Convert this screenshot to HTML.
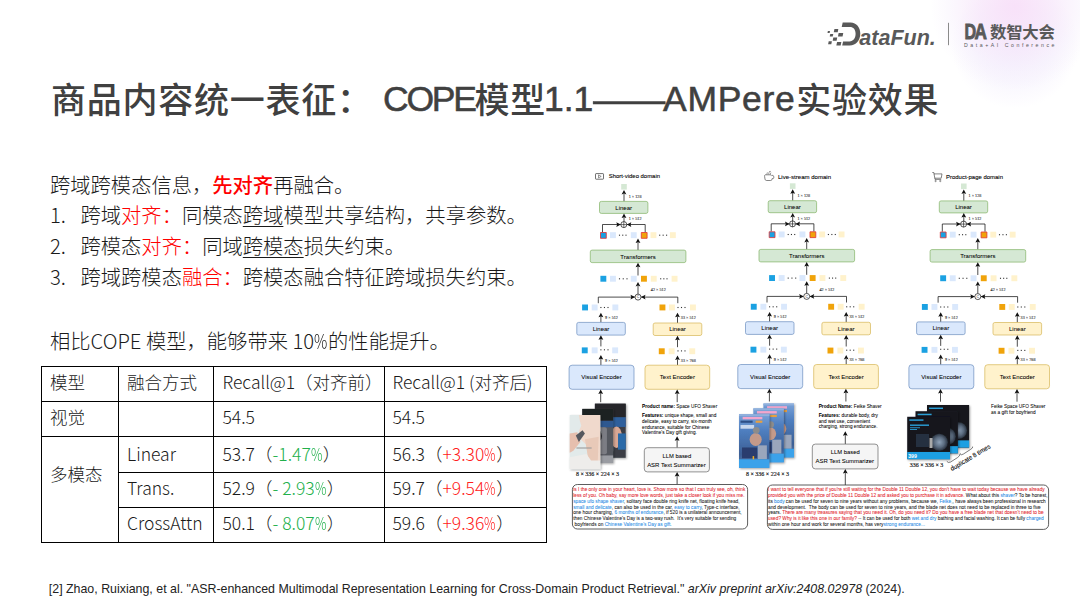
<!DOCTYPE html>
<html><head><meta charset="utf-8">
<style>
*{margin:0;padding:0;box-sizing:border-box}
html,body{width:1080px;height:608px;overflow:hidden;background:#fff}
body{position:relative;font-family:"Liberation Sans","Noto Sans CJK SC",sans-serif}
.glow{position:absolute;left:900px;top:-100px;width:230px;height:230px;
 background:radial-gradient(circle at 50% 46%, rgba(248,221,248,0.85) 0%, rgba(246,226,249,0.6) 22%, rgba(243,233,251,0.3) 38%, rgba(255,255,255,0) 50%)}
.glow2{position:absolute;left:925px;top:-45px;width:180px;height:180px;
 background:radial-gradient(circle at 50% 50%, rgba(236,228,252,0.55) 0%, rgba(238,232,252,0.35) 30%, rgba(244,240,253,0.15) 45%, rgba(255,255,255,0) 50%)}
.title span{position:absolute;top:0}
.title .cj{font-size:35px}
.title .la{font-family:"Liberation Sans",sans-serif;font-size:35.5px;-webkit-text-stroke:0.55px #404040}
.title{position:absolute;left:52px;top:74px;font-family:"Noto Sans CJK SC",sans-serif;font-weight:500;font-size:33px;line-height:48px;color:#404040;white-space:nowrap;letter-spacing:2.7px}
.body{position:absolute;left:50px;font-family:"Noto Sans CJK SC",sans-serif;font-weight:300;font-size:20.3px;line-height:28px;color:#1a1a1a;white-space:nowrap}
.red{color:#ff0000}
.u{text-decoration:underline;text-underline-offset:3px;text-decoration-thickness:1px}
.num{display:inline-block;width:30.5px}
.hl{position:absolute;height:1px;background:#000}
.vl{position:absolute;width:1.2px;background:#000}
.tt{position:absolute;font-family:"Noto Sans CJK SC",sans-serif;font-weight:300;font-size:17.5px;line-height:24px;color:#1a1a1a;white-space:nowrap}
.pc{display:inline-block;transform:scaleX(0.73);transform-origin:0 50%;margin-right:-0.21em}
.g{color:#22b04b}
.r{color:#ff2020}
.foot{position:absolute;left:48.8px;top:582px;font-family:"Liberation Sans",sans-serif;font-size:12.4px;color:#222;white-space:nowrap}
</style></head>
<body>
<div class="glow2"></div><div class="glow"></div>

<!-- logo -->
<svg style="position:absolute;left:0;top:0" width="1080" height="60" viewBox="0 0 1080 60">
  <g fill="#595959">
    <path d="M827.89 31 L829.99 31 L829.61 32.9 L827.51 32.9 Z"/>
    <path d="M834.42 29 L838.32 29 L837.68 32.2 L833.78 32.2 Z"/>
    <path d="M830.26 34 L833.26 34 L832.74 36.6 L829.74 36.6 Z"/>
    <path d="M838.65 33.1 L843.25 33.1 L842.55 36.6 L837.95 36.6 Z"/>
    <path d="M833.32 37.5 L837.22 37.5 L836.58 40.7 L832.68 40.7 Z"/>
    <path d="M828.70 41.2 L831.90 41.2 L831.30 44.2 L828.10 44.2 Z"/>
    <path d="M837.05 42.1 L841.35 42.1 L840.65 45.6 L836.35 45.6 Z"/>
    <path d="M842.7 22.6 H850.5 C856.6 22.6 860.3 27.6 860.3 33.6 C860.3 40.2 856.2 45.6 849.6 45.6 H842.2 L843.1 41.4 H849.4 C853.4 41.4 855.6 38.2 855.6 33.8 C855.6 29.8 853.5 27.1 849.8 27.1 H841.7 Z"/>
  </g>
  <text x="859.3" y="45.3" font-family="Liberation Sans" font-weight="bold" font-style="italic" font-size="22" fill="#595959" textLength="76.5" lengthAdjust="spacingAndGlyphs">ataFun.</text>
  <rect x="948" y="22.8" width="1" height="22.4" fill="#8a8a8a"/>
  <text x="964.4" y="38.9" font-family="Liberation Sans" font-weight="bold" font-size="22" fill="#595959" stroke="#595959" stroke-width="0.9" textLength="11.6" lengthAdjust="spacingAndGlyphs">D</text><text x="974.6" y="38.9" font-family="Liberation Sans" font-weight="bold" font-size="22" fill="#595959" stroke="#595959" stroke-width="0.9" textLength="12.4" lengthAdjust="spacingAndGlyphs">A</text>
  <text x="990" y="37.6" font-family="Noto Sans CJK SC" font-weight="700" font-size="16.4" fill="#595959" textLength="64.8" lengthAdjust="spacing">数智大会</text>
  <text x="964" y="46.8" font-family="Liberation Sans" font-size="5.2" fill="#595959" textLength="90.5" lengthAdjust="spacing">Data+AI Conference</text>
</svg>

<div class="title"><span class="cj" style="left:-1px;letter-spacing:0.75px">商品内容统一表征：</span><span class="la" style="left:331px;top:1px;letter-spacing:-2.2px">COPE</span><span class="cj" style="left:422.5px;letter-spacing:0.75px">模型</span><span class="la" style="left:492px;top:1px;letter-spacing:0px">1.1</span><span style="left:539px;top:0;display:inline-block;transform-origin:0 0;transform:scaleX(1.371);-webkit-text-stroke:0.35px #404040">——</span><span class="la" style="left:611px;top:1px;letter-spacing:0.7px">AMPere</span><span class="cj" style="left:744.3px;letter-spacing:0.75px">实验效果</span></div>

<div class="body" style="top:169.5px">跨域跨模态信息，<span class="red" style="font-weight:500">先对齐</span>再融合。</div>
<div class="body" style="top:200px"><span class="num">1.</span>跨域<span class="red">对齐：</span>同模态<span class="u">跨域</span>模型共享结构，共享参数。</div>
<div class="body" style="top:231px"><span class="num">2.</span>跨模态<span class="red">对齐：</span>同域<span class="u">跨模态</span>损失约束。</div>
<div class="body" style="top:262px"><span class="num">3.</span>跨域跨模态<span class="red">融合：</span>跨模态融合特征跨域损失约束。</div>
<div class="body" style="top:326px">相比COPE 模型，能够带来 10<span class="pc">%</span>的性能提升。</div>

<div class="tb">
<div class="hl" style="top:366px;left:41px;width:505px"></div>
<div class="hl" style="top:401px;left:41px;width:505px"></div>
<div class="hl" style="top:436px;left:41px;width:505px"></div>
<div class="hl" style="top:471.5px;left:118px;width:428px"></div>
<div class="hl" style="top:507px;left:118px;width:428px"></div>
<div class="hl" style="top:542px;left:41px;width:505px"></div>
<div class="vl" style="left:40.5px;top:366px;height:177px"></div>
<div class="vl" style="left:118px;top:366px;height:177px"></div>
<div class="vl" style="left:213.3px;top:366px;height:177px"></div>
<div class="vl" style="left:383.8px;top:366px;height:177px"></div>
<div class="vl" style="left:545.5px;top:366px;height:177px"></div>
<div class="tt" style="left:50px;top:370px">模型</div>
<div class="tt" style="left:127px;top:370px">融合方式</div>
<div class="tt" style="left:222.5px;top:370px">Recall@1（对齐前）</div>
<div class="tt" style="left:392.5px;top:370px">Recall@1 (对齐后)</div>
<div class="tt" style="left:50px;top:405px">视觉</div>
<div class="tt" style="left:222.5px;top:405px">54.5</div>
<div class="tt" style="left:392.5px;top:405px">54.5</div>
<div class="tt" style="left:50px;top:462px">多模态</div>
<div class="tt" style="left:127px;top:441.5px">Linear</div>
<div class="tt" style="left:127px;top:475.5px">Trans.</div>
<div class="tt" style="left:127px;top:511px">CrossAttn</div>
<div class="tt" style="left:222.5px;top:441.5px">53.7（<span class="g">-1.47<span class="pc">%</span></span>）</div>
<div class="tt" style="left:222.5px;top:475.5px">52.9（<span class="g">- 2.93<span class="pc">%</span></span>）</div>
<div class="tt" style="left:222.5px;top:511px">50.1（<span class="g">- 8.07<span class="pc">%</span></span>）</div>
<div class="tt" style="left:392.5px;top:441.5px">56.3（<span class="r">+3.30<span class="pc">%</span></span>）</div>
<div class="tt" style="left:392.5px;top:475.5px">59.7（<span class="r">+9.54<span class="pc">%</span></span>）</div>
<div class="tt" style="left:392.5px;top:511px">59.6（<span class="r">+9.36<span class="pc">%</span></span>）</div>
</div>

<div class="foot">[2] Zhao, Ruixiang, et al. "ASR-enhanced Multimodal Representation Learning for Cross-Domain Product Retrieval." <i>arXiv preprint arXiv:2408.02978</i> (2024).</div>

<!--FIG-START-->
<svg style="position:absolute;left:0;top:0" width="1080" height="608" viewBox="0 0 1080 608" font-family="Liberation Sans, Arial, sans-serif" stroke-linejoin="round">
<rect x="595.5" y="173.6" width="8" height="5.6" rx="0.6" fill="none" stroke="#333" stroke-width="0.7"/>
<path d="M598.5 174.9 L601.2 176.4 L598.5 177.9 Z" fill="none" stroke="#333" stroke-width="0.5"/>
<text x="608.7" y="178.3" font-size="6.2" fill="#000" stroke="#000" stroke-width="0.1" textLength="51.3" lengthAdjust="spacingAndGlyphs">Short-video domain</text>
<path d="M765.2 174.8 Q764.4 175.2 764.6 176.5 L765 179.2 Q765.3 180.5 766.6 180.5 L770.6 180.5 Q771.9 180.5 772 179.2 L772.1 178.6 L773.2 178.6 Q773.9 178.4 773.8 177.4 L773.6 176.2 Q773.4 175.3 772.5 175.4 L771.8 175.6 Q771.3 174.6 770 174.8 Z" fill="none" stroke="#444" stroke-width="0.65"/>
<path d="M766.8 174.5 L767.4 172.4 M768.6 174.3 L769.1 172.2 M770.2 174.4 L770.9 172.6 M769 171.7 L770.8 171.4" stroke="#555" stroke-width="0.6" fill="none"/>
<text x="778" y="178.9" font-size="6.2" fill="#000" stroke="#000" stroke-width="0.1" textLength="53" lengthAdjust="spacingAndGlyphs">Live-stream domain</text>
<path d="M932.3 172.5 L933.8 172.5 L935 179.4 L941.2 179.4 M933.9 173.9 L942 173.9 L941.2 178.2 L934.8 178.2" fill="none" stroke="#333" stroke-width="0.6"/>
<circle cx="935.6" cy="181" r="0.7" fill="none" stroke="#333" stroke-width="0.5"/><circle cx="940.3" cy="181" r="0.7" fill="none" stroke="#333" stroke-width="0.5"/>
<text x="946" y="178.7" font-size="6.2" fill="#000" stroke="#000" stroke-width="0.1" textLength="57" lengthAdjust="spacingAndGlyphs">Product-page domain</text>
<defs>
<filter id="sh" x="-20%" y="-20%" width="150%" height="150%"><feDropShadow dx="1" dy="1" stdDeviation="0.9" flood-color="#000" flood-opacity="0.35"/></filter>
<linearGradient id="skin" x1="0" y1="0" x2="1" y2="0"><stop offset="0" stop-color="#dfe6e6"/><stop offset="0.45" stop-color="#f3e0d6"/><stop offset="1" stop-color="#ecd2c4"/></linearGradient>
<linearGradient id="lsb" x1="0" y1="0" x2="0" y2="1"><stop offset="0" stop-color="#7aa2d8"/><stop offset="0.3" stop-color="#4f7fc0"/><stop offset="0.75" stop-color="#3c5f95"/><stop offset="1" stop-color="#5b7fb0"/></linearGradient>
<radialGradient id="shv" cx="0.5" cy="0.5" r="0.5"><stop offset="0" stop-color="#8ea2b8"/><stop offset="0.6" stop-color="#5a6a7e"/><stop offset="1" stop-color="#2a3340"/></radialGradient>
</defs>
<g transform="translate(0,0)">
<rect x="621.2" y="184.0" width="5.6" height="5.6" fill="#d5e8d4"/>
<line x1="624" y1="201.4" x2="624" y2="193.60" stroke="#111" stroke-width="0.75"/>
<path d="M624 189.9 L626.40 194.40 L624 193.60 L621.60 194.40 Z" fill="#111"/>
<text x="628.7" y="197.87" font-size="4.2" font-family="Liberation Serif" fill="#222" stroke="#222" stroke-width="0.08">1 × 128</text>
<rect x="599.5" y="201.4" width="48.40" height="12.00" rx="1.8" fill="#d5e8d4" stroke="#82b366" stroke-width="0.7"/>
<text x="623.7" y="209.50" font-size="6.0" text-anchor="middle" fill="#000" stroke="#000" stroke-width="0.05">Linear</text>
<line x1="624" y1="221.9" x2="624" y2="217.30" stroke="#111" stroke-width="0.75"/>
<path d="M624 213.6 L626.40 218.10 L624 217.30 L621.60 218.10 Z" fill="#111"/>
<text x="628.7" y="220.27" font-size="4.2" font-family="Liberation Serif" fill="#222" stroke="#222" stroke-width="0.08">1 × 512</text>
<polyline points="602.5,232.2 602.5,224.5 620.8,224.5" fill="none" stroke="#111" stroke-width="0.75"/>
<polyline points="645.2,232.2 645.2,224.5 626.8,224.5" fill="none" stroke="#111" stroke-width="0.75"/>
<path d="M620.8 224.6 L616.30 222.20 L617.10 224.6 L616.30 227.00 Z" fill="#111"/>
<path d="M626.8 224.6 L631.30 222.20 L630.50 224.6 L631.30 227.00 Z" fill="#111"/>
<circle cx="623.8" cy="224.6" r="3.0" fill="#fff" stroke="#111" stroke-width="0.7"/>
<line x1="620.8" y1="224.6" x2="626.8" y2="224.6" stroke="#111" stroke-width="0.6"/>
<line x1="623.8" y1="221.6" x2="623.8" y2="227.6" stroke="#111" stroke-width="0.6"/>
<rect x="600.50" y="232.50" width="5.80" height="5.80" fill="#1ba1e2" stroke="#e23a3a" stroke-width="0.85"/>
<rect x="610" y="232.2" width="5.9" height="5.9" fill="#dae8fc"/>
<rect x="618.95" y="234.65" width="1.1" height="1.1" fill="#333"/>
<rect x="622.20" y="234.65" width="1.1" height="1.1" fill="#333"/>
<rect x="625.45" y="234.65" width="1.1" height="1.1" fill="#333"/>
<rect x="630.8" y="232.2" width="5.9" height="5.9" fill="#dae8fc"/>
<rect x="641.30" y="232.50" width="5.80" height="5.80" fill="#f0a30a" stroke="#e23a3a" stroke-width="0.85"/>
<rect x="650.5" y="232.2" width="5.9" height="5.9" fill="#fff2cc"/>
<rect x="659.15" y="234.65" width="1.1" height="1.1" fill="#333"/>
<rect x="662.60" y="234.65" width="1.1" height="1.1" fill="#333"/>
<rect x="666.05" y="234.65" width="1.1" height="1.1" fill="#333"/>
<rect x="669.9" y="232.2" width="5.9" height="5.9" fill="#fff2cc"/>
<line x1="638" y1="250.1" x2="638" y2="242.30" stroke="#111" stroke-width="0.75"/>
<path d="M638 238.6 L640.40 243.10 L638 242.30 L635.60 243.10 Z" fill="#111"/>
<rect x="590.3" y="250.1" width="95.60" height="12.50" rx="1.8" fill="#d5e8d4" stroke="#82b366" stroke-width="0.7"/>
<text x="638.1" y="258.50" font-size="6.0" text-anchor="middle" fill="#000" stroke="#000" stroke-width="0.05">Transformers</text>
<line x1="638" y1="275.5" x2="638" y2="266.50" stroke="#111" stroke-width="0.75"/>
<path d="M638 262.8 L640.40 267.30 L638 266.50 L635.60 267.30 Z" fill="#111"/>
<rect x="600.4" y="275.8" width="5.9" height="5.9" fill="#1ba1e2"/>
<rect x="610" y="275.8" width="5.9" height="5.9" fill="#dae8fc"/>
<rect x="618.95" y="278.25" width="1.1" height="1.1" fill="#333"/>
<rect x="622.70" y="278.25" width="1.1" height="1.1" fill="#333"/>
<rect x="626.45" y="278.25" width="1.1" height="1.1" fill="#333"/>
<rect x="630.8" y="275.8" width="5.9" height="5.9" fill="#dae8fc"/>
<rect x="641" y="275.8" width="5.9" height="5.9" fill="#f0a30a"/>
<rect x="650.8" y="275.8" width="5.9" height="5.9" fill="#fff2cc"/>
<rect x="660.15" y="278.25" width="1.1" height="1.1" fill="#333"/>
<rect x="663.30" y="278.25" width="1.1" height="1.1" fill="#333"/>
<rect x="666.45" y="278.25" width="1.1" height="1.1" fill="#333"/>
<rect x="671.6" y="275.8" width="5.9" height="5.9" fill="#fff2cc"/>
<line x1="638" y1="294.3" x2="638" y2="285.60" stroke="#111" stroke-width="0.75"/>
<path d="M638 281.9 L640.40 286.40 L638 285.60 L635.60 286.40 Z" fill="#111"/>
<text x="650.8" y="291.47" font-size="4.2" font-family="Liberation Serif" fill="#222" stroke="#222" stroke-width="0.08">42 × 512</text>
<polyline points="598.3,303.2 598.3,297.1 634.8,297.1" fill="none" stroke="#111" stroke-width="0.75"/>
<polyline points="677.8,303.2 677.8,297.1 641.2,297.1" fill="none" stroke="#111" stroke-width="0.75"/>
<path d="M635.0 297.1 L630.50 294.70 L631.30 297.1 L630.50 299.50 Z" fill="#111"/>
<path d="M641.0 297.1 L645.50 294.70 L644.70 297.1 L645.50 299.50 Z" fill="#111"/>
<circle cx="638" cy="297.1" r="3.0" fill="#fff" stroke="#111" stroke-width="0.7"/>
<text x="638" y="298.30" font-size="3.6" text-anchor="middle" fill="#222" font-family="Liberation Sans">C</text>
<rect x="582.1" y="304.5" width="5.9" height="5.9" fill="#1ba1e2"/>
<rect x="591.7" y="304.5" width="5.9" height="5.9" fill="#dae8fc"/>
<rect x="600.35" y="306.95" width="1.1" height="1.1" fill="#333"/>
<rect x="603.90" y="306.95" width="1.1" height="1.1" fill="#333"/>
<rect x="607.45" y="306.95" width="1.1" height="1.1" fill="#333"/>
<rect x="612.4" y="304.5" width="5.9" height="5.9" fill="#dae8fc"/>
<rect x="659.5" y="304.5" width="5.9" height="5.9" fill="#f0a30a"/>
<rect x="669" y="304.5" width="5.9" height="5.9" fill="#fff2cc"/>
<rect x="677.45" y="306.95" width="1.1" height="1.1" fill="#333"/>
<rect x="680.95" y="306.95" width="1.1" height="1.1" fill="#333"/>
<rect x="684.45" y="306.95" width="1.1" height="1.1" fill="#333"/>
<rect x="690" y="304.5" width="5.9" height="5.9" fill="#fff2cc"/>
<line x1="600.9" y1="322.4" x2="600.9" y2="316.50" stroke="#111" stroke-width="0.75"/>
<path d="M600.9 312.8 L603.30 317.30 L600.9 316.50 L598.50 317.30 Z" fill="#111"/>
<text x="605.1" y="319.07" font-size="4.2" font-family="Liberation Serif" fill="#222" stroke="#222" stroke-width="0.08">9 × 512</text>
<line x1="677.5" y1="323.0" x2="677.5" y2="316.50" stroke="#111" stroke-width="0.75"/>
<path d="M677.5 312.8 L679.90 317.30 L677.5 316.50 L675.10 317.30 Z" fill="#111"/>
<text x="680.8" y="319.07" font-size="4.2" font-family="Liberation Serif" fill="#222" stroke="#222" stroke-width="0.08">33 × 512</text>
<rect x="576.8" y="322.4" width="48.50" height="12.70" rx="1.8" fill="#dae8fc" stroke="#6c8ebf" stroke-width="0.7"/>
<text x="601" y="330.90" font-size="6.0" text-anchor="middle" fill="#000" stroke="#000" stroke-width="0.05">Linear</text>
<rect x="653.2" y="323.0" width="48.60" height="12.50" rx="1.8" fill="#fff2cc" stroke="#d6b656" stroke-width="0.7"/>
<text x="677.5" y="331.40" font-size="6.0" text-anchor="middle" fill="#000" stroke="#000" stroke-width="0.05">Linear</text>
<line x1="600.9" y1="346.4" x2="600.9" y2="339.00" stroke="#111" stroke-width="0.75"/>
<path d="M600.9 335.3 L603.30 339.80 L600.9 339.00 L598.50 339.80 Z" fill="#111"/>
<line x1="677.5" y1="347.2" x2="677.5" y2="339.40" stroke="#111" stroke-width="0.75"/>
<path d="M677.5 335.7 L679.90 340.20 L677.5 339.40 L675.10 340.20 Z" fill="#111"/>
<rect x="581.8" y="347.4" width="5.9" height="5.9" fill="#1ba1e2"/>
<rect x="591.7" y="347.4" width="5.9" height="5.9" fill="#dae8fc"/>
<rect x="600.35" y="349.25" width="1.1" height="1.1" fill="#333"/>
<rect x="603.90" y="349.25" width="1.1" height="1.1" fill="#333"/>
<rect x="607.45" y="349.25" width="1.1" height="1.1" fill="#333"/>
<rect x="612.2" y="347.4" width="5.9" height="5.9" fill="#dae8fc"/>
<rect x="658.8" y="348.3" width="5.9" height="5.9" fill="#f0a30a"/>
<rect x="668.7" y="348.3" width="5.9" height="5.9" fill="#fff2cc"/>
<rect x="677.45" y="350.35" width="1.1" height="1.1" fill="#333"/>
<rect x="680.95" y="350.35" width="1.1" height="1.1" fill="#333"/>
<rect x="684.45" y="350.35" width="1.1" height="1.1" fill="#333"/>
<rect x="689.3" y="348.3" width="5.9" height="5.9" fill="#fff2cc"/>
<line x1="600.9" y1="365.2" x2="600.9" y2="358.70" stroke="#111" stroke-width="0.75"/>
<path d="M600.9 355.0 L603.30 359.50 L600.9 358.70 L598.50 359.50 Z" fill="#111"/>
<text x="605.1" y="361.57" font-size="4.2" font-family="Liberation Serif" fill="#222" stroke="#222" stroke-width="0.08">9 × 512</text>
<line x1="677.5" y1="365.2" x2="677.5" y2="359.30" stroke="#111" stroke-width="0.75"/>
<path d="M677.5 355.6 L679.90 360.10 L677.5 359.30 L675.10 360.10 Z" fill="#111"/>
<text x="680.8" y="361.57" font-size="4.2" font-family="Liberation Serif" fill="#222" stroke="#222" stroke-width="0.08">33 × 768</text>
<rect x="569.1" y="365.2" width="64.90" height="24.10" rx="3" fill="#dae8fc" stroke="#6c8ebf" stroke-width="0.7"/>
<text x="601.5" y="379.40" font-size="6.0" text-anchor="middle" fill="#000" stroke="#000" stroke-width="0.05" textLength="40.3" lengthAdjust="spacingAndGlyphs">Visual Encoder</text>
<rect x="645.0" y="365.2" width="64.70" height="24.10" rx="3" fill="#fff2cc" stroke="#d6b656" stroke-width="0.7"/>
<text x="677.4" y="379.40" font-size="6.0" text-anchor="middle" fill="#000" stroke="#000" stroke-width="0.05" textLength="35.1" lengthAdjust="spacingAndGlyphs">Text Encoder</text>
<line x1="600.7" y1="402.2" x2="600.7" y2="393.20" stroke="#111" stroke-width="0.75"/>
<path d="M600.7 389.5 L603.10 394.00 L600.7 393.20 L598.30 394.00 Z" fill="#111"/>
<line x1="677.2" y1="402.2" x2="677.2" y2="393.20" stroke="#111" stroke-width="0.75"/>
<path d="M677.2 389.5 L679.60 394.00 L677.2 393.20 L674.80 394.00 Z" fill="#111"/>
</g>
<g transform="translate(168.7,-0.7)">
<rect x="621.2" y="184.0" width="5.6" height="5.6" fill="#d5e8d4"/>
<line x1="624" y1="201.4" x2="624" y2="193.60" stroke="#111" stroke-width="0.75"/>
<path d="M624 189.9 L626.40 194.40 L624 193.60 L621.60 194.40 Z" fill="#111"/>
<text x="628.7" y="197.87" font-size="4.2" font-family="Liberation Serif" fill="#222" stroke="#222" stroke-width="0.08">1 × 128</text>
<rect x="599.5" y="201.4" width="48.40" height="12.00" rx="1.8" fill="#d5e8d4" stroke="#82b366" stroke-width="0.7"/>
<text x="623.7" y="209.50" font-size="6.0" text-anchor="middle" fill="#000" stroke="#000" stroke-width="0.05">Linear</text>
<line x1="624" y1="221.9" x2="624" y2="217.30" stroke="#111" stroke-width="0.75"/>
<path d="M624 213.6 L626.40 218.10 L624 217.30 L621.60 218.10 Z" fill="#111"/>
<text x="628.7" y="220.27" font-size="4.2" font-family="Liberation Serif" fill="#222" stroke="#222" stroke-width="0.08">1 × 512</text>
<polyline points="602.5,232.2 602.5,224.5 620.8,224.5" fill="none" stroke="#111" stroke-width="0.75"/>
<polyline points="645.2,232.2 645.2,224.5 626.8,224.5" fill="none" stroke="#111" stroke-width="0.75"/>
<path d="M620.8 224.6 L616.30 222.20 L617.10 224.6 L616.30 227.00 Z" fill="#111"/>
<path d="M626.8 224.6 L631.30 222.20 L630.50 224.6 L631.30 227.00 Z" fill="#111"/>
<circle cx="623.8" cy="224.6" r="3.0" fill="#fff" stroke="#111" stroke-width="0.7"/>
<line x1="620.8" y1="224.6" x2="626.8" y2="224.6" stroke="#111" stroke-width="0.6"/>
<line x1="623.8" y1="221.6" x2="623.8" y2="227.6" stroke="#111" stroke-width="0.6"/>
<rect x="600.50" y="232.50" width="5.80" height="5.80" fill="#1ba1e2" stroke="#e23a3a" stroke-width="0.85"/>
<rect x="610" y="232.2" width="5.9" height="5.9" fill="#dae8fc"/>
<rect x="618.95" y="234.65" width="1.1" height="1.1" fill="#333"/>
<rect x="622.20" y="234.65" width="1.1" height="1.1" fill="#333"/>
<rect x="625.45" y="234.65" width="1.1" height="1.1" fill="#333"/>
<rect x="630.8" y="232.2" width="5.9" height="5.9" fill="#dae8fc"/>
<rect x="641.30" y="232.50" width="5.80" height="5.80" fill="#f0a30a" stroke="#e23a3a" stroke-width="0.85"/>
<rect x="650.5" y="232.2" width="5.9" height="5.9" fill="#fff2cc"/>
<rect x="659.15" y="234.65" width="1.1" height="1.1" fill="#333"/>
<rect x="662.60" y="234.65" width="1.1" height="1.1" fill="#333"/>
<rect x="666.05" y="234.65" width="1.1" height="1.1" fill="#333"/>
<rect x="669.9" y="232.2" width="5.9" height="5.9" fill="#fff2cc"/>
<line x1="638" y1="250.1" x2="638" y2="242.30" stroke="#111" stroke-width="0.75"/>
<path d="M638 238.6 L640.40 243.10 L638 242.30 L635.60 243.10 Z" fill="#111"/>
<rect x="590.3" y="250.1" width="95.60" height="12.50" rx="1.8" fill="#d5e8d4" stroke="#82b366" stroke-width="0.7"/>
<text x="638.1" y="258.50" font-size="6.0" text-anchor="middle" fill="#000" stroke="#000" stroke-width="0.05">Transformers</text>
<line x1="638" y1="275.5" x2="638" y2="266.50" stroke="#111" stroke-width="0.75"/>
<path d="M638 262.8 L640.40 267.30 L638 266.50 L635.60 267.30 Z" fill="#111"/>
<rect x="600.4" y="275.8" width="5.9" height="5.9" fill="#1ba1e2"/>
<rect x="610" y="275.8" width="5.9" height="5.9" fill="#dae8fc"/>
<rect x="618.95" y="278.25" width="1.1" height="1.1" fill="#333"/>
<rect x="622.70" y="278.25" width="1.1" height="1.1" fill="#333"/>
<rect x="626.45" y="278.25" width="1.1" height="1.1" fill="#333"/>
<rect x="630.8" y="275.8" width="5.9" height="5.9" fill="#dae8fc"/>
<rect x="641" y="275.8" width="5.9" height="5.9" fill="#f0a30a"/>
<rect x="650.8" y="275.8" width="5.9" height="5.9" fill="#fff2cc"/>
<rect x="660.15" y="278.25" width="1.1" height="1.1" fill="#333"/>
<rect x="663.30" y="278.25" width="1.1" height="1.1" fill="#333"/>
<rect x="666.45" y="278.25" width="1.1" height="1.1" fill="#333"/>
<rect x="671.6" y="275.8" width="5.9" height="5.9" fill="#fff2cc"/>
<line x1="638" y1="294.3" x2="638" y2="285.60" stroke="#111" stroke-width="0.75"/>
<path d="M638 281.9 L640.40 286.40 L638 285.60 L635.60 286.40 Z" fill="#111"/>
<text x="650.8" y="291.47" font-size="4.2" font-family="Liberation Serif" fill="#222" stroke="#222" stroke-width="0.08">42 × 512</text>
<polyline points="598.3,303.2 598.3,297.1 634.8,297.1" fill="none" stroke="#111" stroke-width="0.75"/>
<polyline points="677.8,303.2 677.8,297.1 641.2,297.1" fill="none" stroke="#111" stroke-width="0.75"/>
<path d="M635.0 297.1 L630.50 294.70 L631.30 297.1 L630.50 299.50 Z" fill="#111"/>
<path d="M641.0 297.1 L645.50 294.70 L644.70 297.1 L645.50 299.50 Z" fill="#111"/>
<circle cx="638" cy="297.1" r="3.0" fill="#fff" stroke="#111" stroke-width="0.7"/>
<text x="638" y="298.30" font-size="3.6" text-anchor="middle" fill="#222" font-family="Liberation Sans">C</text>
<rect x="582.1" y="304.5" width="5.9" height="5.9" fill="#1ba1e2"/>
<rect x="591.7" y="304.5" width="5.9" height="5.9" fill="#dae8fc"/>
<rect x="600.35" y="306.95" width="1.1" height="1.1" fill="#333"/>
<rect x="603.90" y="306.95" width="1.1" height="1.1" fill="#333"/>
<rect x="607.45" y="306.95" width="1.1" height="1.1" fill="#333"/>
<rect x="612.4" y="304.5" width="5.9" height="5.9" fill="#dae8fc"/>
<rect x="659.5" y="304.5" width="5.9" height="5.9" fill="#f0a30a"/>
<rect x="669" y="304.5" width="5.9" height="5.9" fill="#fff2cc"/>
<rect x="677.45" y="306.95" width="1.1" height="1.1" fill="#333"/>
<rect x="680.95" y="306.95" width="1.1" height="1.1" fill="#333"/>
<rect x="684.45" y="306.95" width="1.1" height="1.1" fill="#333"/>
<rect x="690" y="304.5" width="5.9" height="5.9" fill="#fff2cc"/>
<line x1="600.9" y1="322.4" x2="600.9" y2="316.50" stroke="#111" stroke-width="0.75"/>
<path d="M600.9 312.8 L603.30 317.30 L600.9 316.50 L598.50 317.30 Z" fill="#111"/>
<text x="605.1" y="319.07" font-size="4.2" font-family="Liberation Serif" fill="#222" stroke="#222" stroke-width="0.08">9 × 512</text>
<line x1="677.5" y1="323.0" x2="677.5" y2="316.50" stroke="#111" stroke-width="0.75"/>
<path d="M677.5 312.8 L679.90 317.30 L677.5 316.50 L675.10 317.30 Z" fill="#111"/>
<text x="680.8" y="319.07" font-size="4.2" font-family="Liberation Serif" fill="#222" stroke="#222" stroke-width="0.08">33 × 512</text>
<rect x="576.8" y="322.4" width="48.50" height="12.70" rx="1.8" fill="#dae8fc" stroke="#6c8ebf" stroke-width="0.7"/>
<text x="601" y="330.90" font-size="6.0" text-anchor="middle" fill="#000" stroke="#000" stroke-width="0.05">Linear</text>
<rect x="653.2" y="323.0" width="48.60" height="12.50" rx="1.8" fill="#fff2cc" stroke="#d6b656" stroke-width="0.7"/>
<text x="677.5" y="331.40" font-size="6.0" text-anchor="middle" fill="#000" stroke="#000" stroke-width="0.05">Linear</text>
<line x1="600.9" y1="346.4" x2="600.9" y2="339.00" stroke="#111" stroke-width="0.75"/>
<path d="M600.9 335.3 L603.30 339.80 L600.9 339.00 L598.50 339.80 Z" fill="#111"/>
<line x1="677.5" y1="347.2" x2="677.5" y2="339.40" stroke="#111" stroke-width="0.75"/>
<path d="M677.5 335.7 L679.90 340.20 L677.5 339.40 L675.10 340.20 Z" fill="#111"/>
<rect x="581.8" y="347.4" width="5.9" height="5.9" fill="#1ba1e2"/>
<rect x="591.7" y="347.4" width="5.9" height="5.9" fill="#dae8fc"/>
<rect x="600.35" y="349.25" width="1.1" height="1.1" fill="#333"/>
<rect x="603.90" y="349.25" width="1.1" height="1.1" fill="#333"/>
<rect x="607.45" y="349.25" width="1.1" height="1.1" fill="#333"/>
<rect x="612.2" y="347.4" width="5.9" height="5.9" fill="#dae8fc"/>
<rect x="658.8" y="348.3" width="5.9" height="5.9" fill="#f0a30a"/>
<rect x="668.7" y="348.3" width="5.9" height="5.9" fill="#fff2cc"/>
<rect x="677.45" y="350.35" width="1.1" height="1.1" fill="#333"/>
<rect x="680.95" y="350.35" width="1.1" height="1.1" fill="#333"/>
<rect x="684.45" y="350.35" width="1.1" height="1.1" fill="#333"/>
<rect x="689.3" y="348.3" width="5.9" height="5.9" fill="#fff2cc"/>
<line x1="600.9" y1="365.2" x2="600.9" y2="358.70" stroke="#111" stroke-width="0.75"/>
<path d="M600.9 355.0 L603.30 359.50 L600.9 358.70 L598.50 359.50 Z" fill="#111"/>
<text x="605.1" y="361.57" font-size="4.2" font-family="Liberation Serif" fill="#222" stroke="#222" stroke-width="0.08">9 × 512</text>
<line x1="677.5" y1="365.2" x2="677.5" y2="359.30" stroke="#111" stroke-width="0.75"/>
<path d="M677.5 355.6 L679.90 360.10 L677.5 359.30 L675.10 360.10 Z" fill="#111"/>
<text x="680.8" y="361.57" font-size="4.2" font-family="Liberation Serif" fill="#222" stroke="#222" stroke-width="0.08">33 × 768</text>
<rect x="569.1" y="365.2" width="64.90" height="24.10" rx="3" fill="#dae8fc" stroke="#6c8ebf" stroke-width="0.7"/>
<text x="601.5" y="379.40" font-size="6.0" text-anchor="middle" fill="#000" stroke="#000" stroke-width="0.05" textLength="40.3" lengthAdjust="spacingAndGlyphs">Visual Encoder</text>
<rect x="645.0" y="365.2" width="64.70" height="24.10" rx="3" fill="#fff2cc" stroke="#d6b656" stroke-width="0.7"/>
<text x="677.4" y="379.40" font-size="6.0" text-anchor="middle" fill="#000" stroke="#000" stroke-width="0.05" textLength="35.1" lengthAdjust="spacingAndGlyphs">Text Encoder</text>
<line x1="600.7" y1="402.2" x2="600.7" y2="393.20" stroke="#111" stroke-width="0.75"/>
<path d="M600.7 389.5 L603.10 394.00 L600.7 393.20 L598.30 394.00 Z" fill="#111"/>
<line x1="677.2" y1="402.2" x2="677.2" y2="393.20" stroke="#111" stroke-width="0.75"/>
<path d="M677.2 389.5 L679.60 394.00 L677.2 393.20 L674.80 394.00 Z" fill="#111"/>
</g>
<g transform="translate(339.8,-0.5)">
<rect x="621.2" y="184.0" width="5.6" height="5.6" fill="#d5e8d4"/>
<line x1="624" y1="201.4" x2="624" y2="193.60" stroke="#111" stroke-width="0.75"/>
<path d="M624 189.9 L626.40 194.40 L624 193.60 L621.60 194.40 Z" fill="#111"/>
<text x="628.7" y="197.87" font-size="4.2" font-family="Liberation Serif" fill="#222" stroke="#222" stroke-width="0.08">1 × 128</text>
<rect x="599.5" y="201.4" width="48.40" height="12.00" rx="1.8" fill="#d5e8d4" stroke="#82b366" stroke-width="0.7"/>
<text x="623.7" y="209.50" font-size="6.0" text-anchor="middle" fill="#000" stroke="#000" stroke-width="0.05">Linear</text>
<line x1="624" y1="221.9" x2="624" y2="217.30" stroke="#111" stroke-width="0.75"/>
<path d="M624 213.6 L626.40 218.10 L624 217.30 L621.60 218.10 Z" fill="#111"/>
<text x="628.7" y="220.27" font-size="4.2" font-family="Liberation Serif" fill="#222" stroke="#222" stroke-width="0.08">1 × 512</text>
<polyline points="602.5,232.2 602.5,224.5 620.8,224.5" fill="none" stroke="#111" stroke-width="0.75"/>
<polyline points="645.2,232.2 645.2,224.5 626.8,224.5" fill="none" stroke="#111" stroke-width="0.75"/>
<path d="M620.8 224.6 L616.30 222.20 L617.10 224.6 L616.30 227.00 Z" fill="#111"/>
<path d="M626.8 224.6 L631.30 222.20 L630.50 224.6 L631.30 227.00 Z" fill="#111"/>
<circle cx="623.8" cy="224.6" r="3.0" fill="#fff" stroke="#111" stroke-width="0.7"/>
<line x1="620.8" y1="224.6" x2="626.8" y2="224.6" stroke="#111" stroke-width="0.6"/>
<line x1="623.8" y1="221.6" x2="623.8" y2="227.6" stroke="#111" stroke-width="0.6"/>
<rect x="600.50" y="232.50" width="5.80" height="5.80" fill="#1ba1e2" stroke="#e23a3a" stroke-width="0.85"/>
<rect x="610" y="232.2" width="5.9" height="5.9" fill="#dae8fc"/>
<rect x="618.95" y="234.65" width="1.1" height="1.1" fill="#333"/>
<rect x="622.20" y="234.65" width="1.1" height="1.1" fill="#333"/>
<rect x="625.45" y="234.65" width="1.1" height="1.1" fill="#333"/>
<rect x="630.8" y="232.2" width="5.9" height="5.9" fill="#dae8fc"/>
<rect x="641.30" y="232.50" width="5.80" height="5.80" fill="#f0a30a" stroke="#e23a3a" stroke-width="0.85"/>
<rect x="650.5" y="232.2" width="5.9" height="5.9" fill="#fff2cc"/>
<rect x="659.15" y="234.65" width="1.1" height="1.1" fill="#333"/>
<rect x="662.60" y="234.65" width="1.1" height="1.1" fill="#333"/>
<rect x="666.05" y="234.65" width="1.1" height="1.1" fill="#333"/>
<rect x="669.9" y="232.2" width="5.9" height="5.9" fill="#fff2cc"/>
<line x1="638" y1="250.1" x2="638" y2="242.30" stroke="#111" stroke-width="0.75"/>
<path d="M638 238.6 L640.40 243.10 L638 242.30 L635.60 243.10 Z" fill="#111"/>
<rect x="590.3" y="250.1" width="95.60" height="12.50" rx="1.8" fill="#d5e8d4" stroke="#82b366" stroke-width="0.7"/>
<text x="638.1" y="258.50" font-size="6.0" text-anchor="middle" fill="#000" stroke="#000" stroke-width="0.05">Transformers</text>
<line x1="638" y1="275.5" x2="638" y2="266.50" stroke="#111" stroke-width="0.75"/>
<path d="M638 262.8 L640.40 267.30 L638 266.50 L635.60 267.30 Z" fill="#111"/>
<rect x="600.4" y="275.8" width="5.9" height="5.9" fill="#1ba1e2"/>
<rect x="610" y="275.8" width="5.9" height="5.9" fill="#dae8fc"/>
<rect x="618.95" y="278.25" width="1.1" height="1.1" fill="#333"/>
<rect x="622.70" y="278.25" width="1.1" height="1.1" fill="#333"/>
<rect x="626.45" y="278.25" width="1.1" height="1.1" fill="#333"/>
<rect x="630.8" y="275.8" width="5.9" height="5.9" fill="#dae8fc"/>
<rect x="641" y="275.8" width="5.9" height="5.9" fill="#f0a30a"/>
<rect x="650.8" y="275.8" width="5.9" height="5.9" fill="#fff2cc"/>
<rect x="660.15" y="278.25" width="1.1" height="1.1" fill="#333"/>
<rect x="663.30" y="278.25" width="1.1" height="1.1" fill="#333"/>
<rect x="666.45" y="278.25" width="1.1" height="1.1" fill="#333"/>
<rect x="671.6" y="275.8" width="5.9" height="5.9" fill="#fff2cc"/>
<line x1="638" y1="294.3" x2="638" y2="285.60" stroke="#111" stroke-width="0.75"/>
<path d="M638 281.9 L640.40 286.40 L638 285.60 L635.60 286.40 Z" fill="#111"/>
<text x="650.8" y="291.47" font-size="4.2" font-family="Liberation Serif" fill="#222" stroke="#222" stroke-width="0.08">42 × 512</text>
<polyline points="598.3,303.2 598.3,297.1 634.8,297.1" fill="none" stroke="#111" stroke-width="0.75"/>
<polyline points="677.8,303.2 677.8,297.1 641.2,297.1" fill="none" stroke="#111" stroke-width="0.75"/>
<path d="M635.0 297.1 L630.50 294.70 L631.30 297.1 L630.50 299.50 Z" fill="#111"/>
<path d="M641.0 297.1 L645.50 294.70 L644.70 297.1 L645.50 299.50 Z" fill="#111"/>
<circle cx="638" cy="297.1" r="3.0" fill="#fff" stroke="#111" stroke-width="0.7"/>
<text x="638" y="298.30" font-size="3.6" text-anchor="middle" fill="#222" font-family="Liberation Sans">C</text>
<rect x="582.1" y="304.5" width="5.9" height="5.9" fill="#1ba1e2"/>
<rect x="591.7" y="304.5" width="5.9" height="5.9" fill="#dae8fc"/>
<rect x="600.35" y="306.95" width="1.1" height="1.1" fill="#333"/>
<rect x="603.90" y="306.95" width="1.1" height="1.1" fill="#333"/>
<rect x="607.45" y="306.95" width="1.1" height="1.1" fill="#333"/>
<rect x="612.4" y="304.5" width="5.9" height="5.9" fill="#dae8fc"/>
<rect x="659.5" y="304.5" width="5.9" height="5.9" fill="#f0a30a"/>
<rect x="669" y="304.5" width="5.9" height="5.9" fill="#fff2cc"/>
<rect x="677.45" y="306.95" width="1.1" height="1.1" fill="#333"/>
<rect x="680.95" y="306.95" width="1.1" height="1.1" fill="#333"/>
<rect x="684.45" y="306.95" width="1.1" height="1.1" fill="#333"/>
<rect x="690" y="304.5" width="5.9" height="5.9" fill="#fff2cc"/>
<line x1="600.9" y1="322.4" x2="600.9" y2="316.50" stroke="#111" stroke-width="0.75"/>
<path d="M600.9 312.8 L603.30 317.30 L600.9 316.50 L598.50 317.30 Z" fill="#111"/>
<text x="605.1" y="319.07" font-size="4.2" font-family="Liberation Serif" fill="#222" stroke="#222" stroke-width="0.08">9 × 512</text>
<line x1="677.5" y1="323.0" x2="677.5" y2="316.50" stroke="#111" stroke-width="0.75"/>
<path d="M677.5 312.8 L679.90 317.30 L677.5 316.50 L675.10 317.30 Z" fill="#111"/>
<text x="680.8" y="319.07" font-size="4.2" font-family="Liberation Serif" fill="#222" stroke="#222" stroke-width="0.08">33 × 512</text>
<rect x="576.8" y="322.4" width="48.50" height="12.70" rx="1.8" fill="#dae8fc" stroke="#6c8ebf" stroke-width="0.7"/>
<text x="601" y="330.90" font-size="6.0" text-anchor="middle" fill="#000" stroke="#000" stroke-width="0.05">Linear</text>
<rect x="653.2" y="323.0" width="48.60" height="12.50" rx="1.8" fill="#fff2cc" stroke="#d6b656" stroke-width="0.7"/>
<text x="677.5" y="331.40" font-size="6.0" text-anchor="middle" fill="#000" stroke="#000" stroke-width="0.05">Linear</text>
<line x1="600.9" y1="346.4" x2="600.9" y2="339.00" stroke="#111" stroke-width="0.75"/>
<path d="M600.9 335.3 L603.30 339.80 L600.9 339.00 L598.50 339.80 Z" fill="#111"/>
<line x1="677.5" y1="347.2" x2="677.5" y2="339.40" stroke="#111" stroke-width="0.75"/>
<path d="M677.5 335.7 L679.90 340.20 L677.5 339.40 L675.10 340.20 Z" fill="#111"/>
<rect x="581.8" y="347.4" width="5.9" height="5.9" fill="#1ba1e2"/>
<rect x="591.7" y="347.4" width="5.9" height="5.9" fill="#dae8fc"/>
<rect x="600.35" y="349.25" width="1.1" height="1.1" fill="#333"/>
<rect x="603.90" y="349.25" width="1.1" height="1.1" fill="#333"/>
<rect x="607.45" y="349.25" width="1.1" height="1.1" fill="#333"/>
<rect x="612.2" y="347.4" width="5.9" height="5.9" fill="#dae8fc"/>
<rect x="658.8" y="348.3" width="5.9" height="5.9" fill="#f0a30a"/>
<rect x="668.7" y="348.3" width="5.9" height="5.9" fill="#fff2cc"/>
<rect x="677.45" y="350.35" width="1.1" height="1.1" fill="#333"/>
<rect x="680.95" y="350.35" width="1.1" height="1.1" fill="#333"/>
<rect x="684.45" y="350.35" width="1.1" height="1.1" fill="#333"/>
<rect x="689.3" y="348.3" width="5.9" height="5.9" fill="#fff2cc"/>
<line x1="600.9" y1="365.2" x2="600.9" y2="358.70" stroke="#111" stroke-width="0.75"/>
<path d="M600.9 355.0 L603.30 359.50 L600.9 358.70 L598.50 359.50 Z" fill="#111"/>
<text x="605.1" y="361.57" font-size="4.2" font-family="Liberation Serif" fill="#222" stroke="#222" stroke-width="0.08">9 × 512</text>
<line x1="677.5" y1="365.2" x2="677.5" y2="359.30" stroke="#111" stroke-width="0.75"/>
<path d="M677.5 355.6 L679.90 360.10 L677.5 359.30 L675.10 360.10 Z" fill="#111"/>
<text x="680.8" y="361.57" font-size="4.2" font-family="Liberation Serif" fill="#222" stroke="#222" stroke-width="0.08">33 × 768</text>
<rect x="569.1" y="365.2" width="64.90" height="24.10" rx="3" fill="#dae8fc" stroke="#6c8ebf" stroke-width="0.7"/>
<text x="601.5" y="379.40" font-size="6.0" text-anchor="middle" fill="#000" stroke="#000" stroke-width="0.05" textLength="40.3" lengthAdjust="spacingAndGlyphs">Visual Encoder</text>
<rect x="645.0" y="365.2" width="64.70" height="24.10" rx="3" fill="#fff2cc" stroke="#d6b656" stroke-width="0.7"/>
<text x="677.4" y="379.40" font-size="6.0" text-anchor="middle" fill="#000" stroke="#000" stroke-width="0.05" textLength="35.1" lengthAdjust="spacingAndGlyphs">Text Encoder</text>
<line x1="600.7" y1="402.2" x2="600.7" y2="393.20" stroke="#111" stroke-width="0.75"/>
<path d="M600.7 389.5 L603.10 394.00 L600.7 393.20 L598.30 394.00 Z" fill="#111"/>
<line x1="677.2" y1="402.2" x2="677.2" y2="393.20" stroke="#111" stroke-width="0.75"/>
<path d="M677.2 389.5 L679.60 394.00 L677.2 393.20 L674.80 394.00 Z" fill="#111"/>
</g>

<g filter="url(#sh)"><rect x="594.9" y="403.7" width="30.8" height="54.1" fill="#3a3d44"/>
<rect x="594.9" y="403.7" width="30.8" height="13.53" fill="#26272b"/>
<rect x="594.9" y="417.22" width="30.8" height="9.74" fill="#2f5f9c"/>
<rect x="596.44" y="426.96" width="16.94" height="24.35" fill="#6b6d73"/>
<ellipse cx="616.46" cy="437.24" rx="5.54" ry="10.82" fill="#d9a895"/>
<rect x="618.00" y="433.45" width="7.70" height="16.23" fill="#2a6aa8"/></g>
<g filter="url(#sh)"><rect x="582.3" y="408.9" width="30.8" height="54.1" fill="#55585f"/>
<rect x="582.3" y="408.9" width="30.8" height="11.90" fill="#1f2024"/>
<rect x="582.3" y="420.80" width="30.8" height="6.49" fill="#2d5890"/>
<rect x="585.38" y="427.29" width="21.56" height="27.05" rx="2" fill="#7b7d84"/>
<circle cx="595.24" cy="435.95" r="6.78" fill="#2b2c30"/>
<rect x="582.3" y="455.43" width="30.8" height="7.57" fill="#9a9ca2"/></g>
<g filter="url(#sh)"><rect x="569.7" y="415.0" width="30.5" height="54.1" fill="#e2eaea"/>
<path d="M578.85 415.00 L600.20 415.00 L600.20 460.99 L588.61 460.99 L586.48 444.75 L580.38 439.35 L578.85 431.23 L581.29 425.82 L579.77 420.41 Z" fill="#f0d9cc"/>
<path d="M584.95 439.35 L598.68 436.64 L597.76 460.99 L588.61 460.99 Z" fill="#e8c9b8"/>
<path d="M569.70 457.20 L586.48 453.95 L591.05 460.44 L600.20 460.44 L600.20 469.10 L569.70 469.10 Z" fill="#eeedeb"/>
<path d="M569.70 433.39 L577.33 432.31 L580.38 442.05 L573.36 450.71 L569.70 452.87 Z" fill="#e6bfae"/>
<path d="M575.80 435.56 L582.51 430.15 L584.95 433.39 L578.85 442.05 Z" fill="#55595f"/>
<rect x="576.41" y="447.46" width="15.25" height="1.08" fill="#9a9a9a"/></g>
<g filter="url(#sh)"><rect x="763.4" y="403.5" width="30.6" height="53.9" fill="url(#lsb)"/>
<rect x="763.4" y="403.5" width="30.6" height="1.89" fill="#8fb0dc"/>
<rect x="767.07" y="406.19" width="19.89" height="2.43" fill="#f2a6cc"/>
<rect x="764.93" y="409.97" width="12.24" height="2.16" fill="#2d4f86"/>
<rect x="780.23" y="409.97" width="6.73" height="2.16" fill="#e8a040"/>
<rect x="764.93" y="414.28" width="13.77" height="3.77" fill="#c9d8ee"/>
<ellipse cx="780.23" cy="428.83" rx="6.12" ry="6.47" fill="#c49a8a"/>
<circle cx="780.84" cy="419.67" r="3.37" fill="#8c8c8c"/>
<rect x="766.46" y="436.92" width="15.30" height="10.78" fill="#2b3d6e"/>
<rect x="782.37" y="434.76" width="9.18" height="14.01" fill="#9aa6bc"/>
<rect x="763.4" y="448.78" width="30.6" height="8.62" fill="#3aa2ea"/>
<rect x="777.17" y="445.54" width="1.53" height="3.23" fill="#f0b020"/></g>
<g filter="url(#sh)"><rect x="753.3" y="408.4" width="30.5" height="53.9" fill="url(#lsb)"/>
<rect x="753.3" y="408.4" width="30.5" height="1.89" fill="#8fb0dc"/>
<rect x="756.96" y="411.09" width="19.82" height="2.43" fill="#f2a6cc"/>
<rect x="754.82" y="414.87" width="12.20" height="2.16" fill="#2d4f86"/>
<rect x="770.07" y="414.87" width="6.71" height="2.16" fill="#e8a040"/>
<rect x="754.82" y="419.18" width="13.72" height="3.77" fill="#c9d8ee"/>
<ellipse cx="770.07" cy="433.73" rx="6.10" ry="6.47" fill="#c49a8a"/>
<circle cx="770.68" cy="424.57" r="3.35" fill="#8c8c8c"/>
<rect x="756.35" y="441.82" width="15.25" height="10.78" fill="#2b3d6e"/>
<rect x="772.21" y="439.66" width="9.15" height="14.01" fill="#9aa6bc"/>
<rect x="753.3" y="453.68" width="30.5" height="8.62" fill="#3aa2ea"/>
<rect x="767.02" y="450.44" width="1.53" height="3.23" fill="#f0b020"/></g>
<g filter="url(#sh)"><rect x="739.0" y="414.2" width="30.3" height="53.7" fill="url(#lsb)"/>
<rect x="739.0" y="414.2" width="30.3" height="1.88" fill="#8fb0dc"/>
<rect x="742.64" y="416.88" width="19.70" height="2.42" fill="#f2a6cc"/>
<rect x="740.51" y="420.64" width="12.12" height="2.15" fill="#2d4f86"/>
<rect x="755.66" y="420.64" width="6.67" height="2.15" fill="#e8a040"/>
<rect x="740.51" y="424.94" width="13.63" height="3.76" fill="#c9d8ee"/>
<ellipse cx="755.66" cy="439.44" rx="6.06" ry="6.44" fill="#c49a8a"/>
<circle cx="756.27" cy="430.31" r="3.33" fill="#8c8c8c"/>
<rect x="742.03" y="447.49" width="15.15" height="10.74" fill="#2b3d6e"/>
<rect x="757.79" y="445.35" width="9.09" height="13.96" fill="#9aa6bc"/>
<rect x="739.0" y="459.31" width="30.3" height="8.59" fill="#3aa2ea"/>
<rect x="752.63" y="456.09" width="1.52" height="3.22" fill="#f0b020"/></g>
<g filter="url(#sh)"><rect x="927.0" y="405.0" width="42.1" height="42.6" fill="#17191e"/>
<rect x="929.11" y="407.56" width="13.89" height="1.49" fill="#2a9fd8"/>
<circle cx="958.58" cy="430.56" r="8.42" fill="url(#shv)"/>
<rect x="927.0" y="440.36" width="42.1" height="7.24" fill="#1c9fe2"/></g>
<g filter="url(#sh)"><rect x="915.5" y="411.2" width="42.4" height="42.1" fill="#17191e"/>
<rect x="917.62" y="413.73" width="13.99" height="1.47" fill="#2a9fd8"/>
<circle cx="947.30" cy="436.46" r="8.48" fill="url(#shv)"/>
<rect x="915.5" y="446.14" width="42.4" height="7.16" fill="#1c9fe2"/></g>
<g filter="url(#sh)"><rect x="907.2" y="416.8" width="42.8" height="42.4" fill="#17191e"/>
<rect x="909.34" y="419.34" width="14.12" height="1.48" fill="#2a9fd8"/>
<circle cx="939.30" cy="442.24" r="8.56" fill="url(#shv)"/>
<rect x="907.2" y="451.99" width="42.8" height="7.21" fill="#1c9fe2"/></g>
<rect x="910" y="424.5" width="19" height="1.4" fill="#2a9fd8"/><rect x="910" y="427.3" width="10" height="0.9" fill="#2a9fd8"/><rect x="910" y="429" width="7" height="0.9" fill="#2a9fd8"/>
<rect x="916" y="434" width="13" height="13" fill="#253040"/><rect x="929.5" y="438" width="3" height="10" fill="#aaa"/>
<text x="908.2" y="457.8" font-size="5.2" font-weight="bold" fill="#fff" font-family="Liberation Sans">399</text>
<text x="597.5" y="476" font-size="6" text-anchor="middle" font-family="Liberation Serif" fill="#111" stroke="#111" stroke-width="0.15" textLength="43" lengthAdjust="spacingAndGlyphs">8 × 336 × 224 × 3</text>
<text x="767.5" y="475.8" font-size="6" text-anchor="middle" font-family="Liberation Serif" fill="#111" stroke="#111" stroke-width="0.15" textLength="43" lengthAdjust="spacingAndGlyphs">8 × 336 × 224 × 3</text>
<text x="926.6" y="467.4" font-size="6" text-anchor="middle" font-family="Liberation Serif" fill="#111" stroke="#111" stroke-width="0.15" textLength="33.5" lengthAdjust="spacingAndGlyphs">336 × 336 × 3</text>
<path d="M946.8 461.3 Q948 463.3 950.6 462 L957.5 457.6 Q960 456 960.2 453.7 Q960.8 455.6 963.3 454.1 L970.6 449.4 Q973.2 447.9 972.6 446.6" fill="none" stroke="#222" stroke-width="0.6"/>
<text transform="translate(971.6,459.4) rotate(-31)" x="0" y="0" font-size="6.6" text-anchor="middle" fill="#000" stroke="#000" stroke-width="0.08" textLength="45.5" lengthAdjust="spacingAndGlyphs">duplicate 8 times</text>
<text x="642" y="408.41" font-size="4.9" fill="#000" stroke="#000" stroke-width="0.04" textLength="75.3" lengthAdjust="spacingAndGlyphs"><tspan font-weight="bold">Product name: </tspan><tspan>Space UFO Shaver</tspan></text>
<text x="642" y="417.31" font-size="4.9" fill="#000" stroke="#000" stroke-width="0.04" textLength="74.4" lengthAdjust="spacingAndGlyphs"><tspan font-weight="bold">Features: </tspan><tspan>unique shape, small and</tspan></text>
<text x="642" y="422.91" font-size="4.9" fill="#000" stroke="#000" stroke-width="0.04" textLength="69.7" lengthAdjust="spacingAndGlyphs"><tspan>delicate, easy to carry, six-month</tspan></text>
<text x="642" y="428.81" font-size="4.9" fill="#000" stroke="#000" stroke-width="0.04" textLength="67.4" lengthAdjust="spacingAndGlyphs"><tspan>endurance, suitable for Chinese</tspan></text>
<text x="642" y="434.11" font-size="4.9" fill="#000" stroke="#000" stroke-width="0.04" textLength="54.9" lengthAdjust="spacingAndGlyphs"><tspan>Valentine's Day gift giving.</tspan></text>
<text x="818.7" y="408.31" font-size="4.9" fill="#000" stroke="#000" stroke-width="0.04" textLength="63.0" lengthAdjust="spacingAndGlyphs"><tspan font-weight="bold">Product Name: </tspan><tspan>Feike Shaver</tspan></text>
<text x="818.7" y="417.21" font-size="4.9" fill="#000" stroke="#000" stroke-width="0.04" textLength="59.3" lengthAdjust="spacingAndGlyphs"><tspan font-weight="bold">Features: </tspan><tspan>durable body, dry</tspan></text>
<text x="818.7" y="422.61" font-size="4.9" fill="#000" stroke="#000" stroke-width="0.04" textLength="51.4" lengthAdjust="spacingAndGlyphs"><tspan>and wet use, convenient</tspan></text>
<text x="818.7" y="428.01" font-size="4.9" fill="#000" stroke="#000" stroke-width="0.04" textLength="58.8" lengthAdjust="spacingAndGlyphs"><tspan>charging, strong endurance.</tspan></text>
<text x="991" y="408.41" font-size="4.9" fill="#000" stroke="#000" stroke-width="0.04" textLength="54.4" lengthAdjust="spacingAndGlyphs"><tspan>Feike Space UFO Shaver</tspan></text>
<text x="991" y="414.31" font-size="4.9" fill="#000" stroke="#000" stroke-width="0.04" textLength="44.7" lengthAdjust="spacingAndGlyphs"><tspan>as a gift for boyfriend</tspan></text>
<line x1="677.1" y1="447.7" x2="677.1" y2="440.00" stroke="#111" stroke-width="0.75"/>
<path d="M677.1 436.3 L679.50 440.80 L677.1 440.00 L674.70 440.80 Z" fill="#111"/>
<rect x="644.3" y="447.7" width="65.10" height="24.20" rx="3" fill="#f5f5f5" stroke="#666666" stroke-width="0.7"/>
<text x="676.9" y="457.80" font-size="6.0" text-anchor="middle" fill="#000" stroke="#000" stroke-width="0.05" textLength="28.9" lengthAdjust="spacingAndGlyphs">LLM based</text>
<text x="676.4" y="466.50" font-size="6.0" text-anchor="middle" fill="#000" stroke="#000" stroke-width="0.05" textLength="58.5" lengthAdjust="spacingAndGlyphs">ASR Text Summarizer</text>
<line x1="677.1" y1="484.5" x2="677.1" y2="475.80" stroke="#111" stroke-width="0.75"/>
<path d="M677.1 472.1 L679.50 476.60 L677.1 475.80 L674.70 476.60 Z" fill="#111"/>
<line x1="845.3" y1="444.1" x2="845.3" y2="434.90" stroke="#111" stroke-width="0.75"/>
<path d="M845.3 431.2 L847.70 435.70 L845.3 434.90 L842.90 435.70 Z" fill="#111"/>
<rect x="812.3" y="444.1" width="65.70" height="24.80" rx="3" fill="#f5f5f5" stroke="#666666" stroke-width="0.7"/>
<text x="845.2" y="454.00" font-size="6.0" text-anchor="middle" fill="#000" stroke="#000" stroke-width="0.05" textLength="28.9" lengthAdjust="spacingAndGlyphs">LLM based</text>
<text x="844.7" y="462.80" font-size="6.0" text-anchor="middle" fill="#000" stroke="#000" stroke-width="0.05" textLength="58.5" lengthAdjust="spacingAndGlyphs">ASR Text Summarizer</text>
<line x1="845.3" y1="485.0" x2="845.3" y2="472.80" stroke="#111" stroke-width="0.75"/>
<path d="M845.3 469.1 L847.70 473.60 L845.3 472.80 L842.90 473.60 Z" fill="#111"/>
<rect x="572.4" y="484.5" width="175.2" height="44.5" rx="5" fill="#fff" stroke="#333" stroke-width="0.8"/>
<rect x="767.4" y="485" width="281.2" height="44.4" rx="5" fill="#fff" stroke="#333" stroke-width="0.8"/>
<text x="573.2" y="491.14" font-size="4.7" stroke-width="0.06" textLength="172.2" lengthAdjust="spacingAndGlyphs" xml:space="preserve"><tspan fill="#e3262e" stroke="#e3262e">is I the only one in your heart, love is. Show more so that I can truly see, oh, think</tspan></text>
<text x="573.2" y="496.94" font-size="4.7" stroke-width="0.06" textLength="171.4" lengthAdjust="spacingAndGlyphs" xml:space="preserve"><tspan fill="#e3262e" stroke="#e3262e">less of you. Oh baby, say more love words, just take a closer look if you miss me.</tspan></text>
<text x="573.2" y="502.84" font-size="4.7" stroke-width="0.06" textLength="166.4" lengthAdjust="spacingAndGlyphs" xml:space="preserve"><tspan fill="#2d8ee6" stroke="#2d8ee6">space ufo shape shaver</tspan><tspan fill="#1a1a1a" stroke="#1a1a1a">, solitary face double ring knife net, floating knife head,</tspan></text>
<text x="573.2" y="508.64" font-size="4.7" stroke-width="0.06" textLength="166.4" lengthAdjust="spacingAndGlyphs" xml:space="preserve"><tspan fill="#2d8ee6" stroke="#2d8ee6">small and delicate</tspan><tspan fill="#1a1a1a" stroke="#1a1a1a">, can also be used in the car, </tspan><tspan fill="#2d8ee6" stroke="#2d8ee6">easy to carry</tspan><tspan fill="#1a1a1a" stroke="#1a1a1a">, Type-c interface,</tspan></text>
<text x="573.2" y="514.35" font-size="4.7" stroke-width="0.06" textLength="168.5" lengthAdjust="spacingAndGlyphs" xml:space="preserve"><tspan fill="#1a1a1a" stroke="#1a1a1a">one hour charging, </tspan><tspan fill="#2d8ee6" stroke="#2d8ee6">6 months of endurance</tspan><tspan fill="#1a1a1a" stroke="#1a1a1a">, if 520 is a unilateral announcement,</tspan></text>
<text x="573.2" y="520.04" font-size="4.7" stroke-width="0.06" textLength="163.1" lengthAdjust="spacingAndGlyphs" xml:space="preserve"><tspan fill="#1a1a1a" stroke="#1a1a1a">then Chinese Valentine's Day is a two-way rush.  It's very suitable for sending</tspan></text>
<text x="574.6" y="525.85" font-size="4.7" stroke-width="0.06" textLength="97.1" lengthAdjust="spacingAndGlyphs" xml:space="preserve"><tspan fill="#1a1a1a" stroke="#1a1a1a">boyfriends on </tspan><tspan fill="#2d8ee6" stroke="#2d8ee6">Chinese Valentine's Day as gift.</tspan></text>
<text x="768.0" y="491.14" font-size="4.7" stroke-width="0.06" textLength="276.7" lengthAdjust="spacingAndGlyphs" xml:space="preserve"><tspan fill="#e3262e" stroke="#e3262e">I want to tell everyone that if you're still waiting for the Double 11 Double 12, you don't have to wait today because we have already</tspan></text>
<text x="768.0" y="496.94" font-size="4.7" stroke-width="0.06" textLength="279.5" lengthAdjust="spacingAndGlyphs" xml:space="preserve"><tspan fill="#e3262e" stroke="#e3262e">provided you with the price of Double 11 Double 12 and asked you to purchase it in advance.</tspan><tspan fill="#1a1a1a" stroke="#1a1a1a"> What about this </tspan><tspan fill="#2d8ee6" stroke="#2d8ee6">shaver</tspan><tspan fill="#1a1a1a" stroke="#1a1a1a">? To be honest,</tspan></text>
<text x="768.0" y="502.84" font-size="4.7" stroke-width="0.06" textLength="277.8" lengthAdjust="spacingAndGlyphs" xml:space="preserve"><tspan fill="#1a1a1a" stroke="#1a1a1a">its </tspan><tspan fill="#2d8ee6" stroke="#2d8ee6">body</tspan><tspan fill="#1a1a1a" stroke="#1a1a1a"> can be used for seven to nine years without any problems, because we, </tspan><tspan fill="#2d8ee6" stroke="#2d8ee6">Feike,</tspan><tspan fill="#1a1a1a" stroke="#1a1a1a">, have always been professional in research</tspan></text>
<text x="768.0" y="508.64" font-size="4.7" stroke-width="0.06" textLength="272.8" lengthAdjust="spacingAndGlyphs" xml:space="preserve"><tspan fill="#1a1a1a" stroke="#1a1a1a">and development.  The body can be used for seven to nine years, and the blade net does not need to be replaced in three to five</tspan></text>
<text x="768.0" y="514.35" font-size="4.7" stroke-width="0.06" textLength="275.7" lengthAdjust="spacingAndGlyphs" xml:space="preserve"><tspan fill="#1a1a1a" stroke="#1a1a1a">years. </tspan><tspan fill="#e3262e" stroke="#e3262e">There are many treasures saying that you need it. Oh, do you need it? Do you have a free blade net that doesn't need to be</tspan></text>
<text x="768.0" y="520.04" font-size="4.7" stroke-width="0.06" textLength="275.7" lengthAdjust="spacingAndGlyphs" xml:space="preserve"><tspan fill="#e3262e" stroke="#e3262e">used? Why is it like this one in our family?</tspan><tspan fill="#1a1a1a" stroke="#1a1a1a"> -- It can be used for both </tspan><tspan fill="#2d8ee6" stroke="#2d8ee6">wet and dry</tspan><tspan fill="#1a1a1a" stroke="#1a1a1a"> bathing and facial washing. It can be fully </tspan><tspan fill="#2d8ee6" stroke="#2d8ee6">charged</tspan></text>
<text x="768.0" y="525.85" font-size="4.7" stroke-width="0.06" textLength="157.0" lengthAdjust="spacingAndGlyphs" xml:space="preserve"><tspan fill="#1a1a1a" stroke="#1a1a1a">within one hour and work for several months, has very</tspan><tspan fill="#2d8ee6" stroke="#2d8ee6">strong endurance...</tspan></text>
</svg>
<!--FIG-END-->
</body></html>
